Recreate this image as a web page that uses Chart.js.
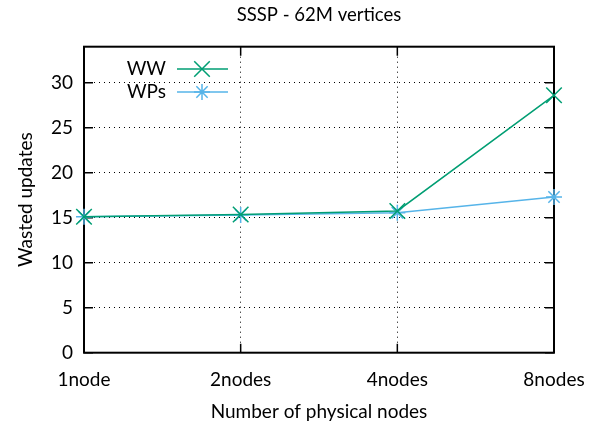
<!DOCTYPE html>
<html>
<head>
<meta charset="utf-8">
<script src="https://cdn.jsdelivr.net/npm/chart.js@4.4.1/dist/chart.umd.min.js"></script>
<style>
    html, body { margin: 0; padding: 0; background: #fff; }
    #grafico-container { width: 596px; height: 429px; }
</style>
</head>
<body>
<div id="grafico-container"><canvas id="graficoSSSP"></canvas></div>
<script>
const nodos = ['1node', '2nodes', '4nodes', '8nodes'];
const valoresWW = [15.1, 15.35, 15.75, 28.6];
const valoresWPs = [15.1, 15.3, 15.55, 17.3];
const ticksY = [0, 5, 10, 15, 20, 25, 30];

const FUENTE = 'Lato, "Open Sans", sans-serif';

// marco, ticks hacia dentro y leyenda al estilo gnuplot
const marcoGnuplot = {
    id: 'marcoGnuplot',
    beforeDatasetsDraw(chart) {
        const {ctx, chartArea: a, scales} = chart;
        ctx.save();
        ctx.strokeStyle = '#000';
        ctx.lineWidth = 1.5;
        ctx.beginPath();
        ticksY.forEach(v => {
            const y = scales.y.getPixelForValue(v);
            ctx.moveTo(a.left, y); ctx.lineTo(a.left + 9, y);
            ctx.moveTo(a.right, y); ctx.lineTo(a.right - 9, y);
        });
        nodos.forEach((n, i) => {
            const x = scales.x.getPixelForValue(i);
            ctx.moveTo(x, a.bottom); ctx.lineTo(x, a.bottom - 9);
            ctx.moveTo(x, a.top); ctx.lineTo(x, a.top + 9);
        });
        ctx.stroke();
        ctx.lineWidth = 2;
        ctx.strokeRect(a.left, a.top, a.right - a.left, a.bottom - a.top);
        ctx.restore();
    },
    afterDraw(chart) {
        const {ctx} = chart;
        ctx.save();
        ctx.font = '19px ' + FUENTE;
        ctx.textAlign = 'right';
        ctx.textBaseline = 'middle';
        chart.data.datasets.forEach((ds, i) => {
            const y = 69 + i * 23;
            ctx.fillStyle = '#000';
            ctx.fillText(ds.label, 166, y);
            ctx.strokeStyle = ds.borderColor;
            ctx.lineWidth = 1.5;
            ctx.beginPath();
            ctx.moveTo(177, y); ctx.lineTo(228, y);
            ctx.stroke();
            Chart.helpers.drawPoint(ctx, {
                pointStyle: ds.pointStyle,
                radius: ds.pointRadius,
                rotation: 0,
                borderWidth: 1.5
            }, 202, y);
        });
        ctx.restore();
    }
};

new Chart(document.getElementById('graficoSSSP').getContext('2d'), {
    type: 'line',
    data: {
        labels: nodos,
        datasets: [{
            label: 'WW',
            data: valoresWW,
            borderColor: '#009e73',
            backgroundColor: '#009e73',
            borderWidth: 1.5,
            pointStyle: 'crossRot',
            pointRadius: 11,
            pointBorderWidth: 1.5,
            clip: false
        }, {
            label: 'WPs',
            data: valoresWPs,
            borderColor: '#56b4e9',
            backgroundColor: '#56b4e9',
            borderWidth: 1.5,
            pointStyle: 'star',
            pointRadius: 8,
            pointBorderWidth: 1.5,
            clip: false
        }]
    },
    options: {
        responsive: true,
        maintainAspectRatio: false,
        animation: false,
        layout: { padding: { top: 0, right: 42, bottom: 0, left: 0 } },
        scales: {
            x: {
                offset: false,
                afterFit: scale => {
                    scale.height = 76.3;
                    scale.paddingLeft = 0;
                    scale.paddingRight = 0;
                },
                border: { display: false, dash: [1, 4] },
                grid: {
                    color: '#000',
                    lineWidth: 1,
                    drawTicks: false
                },
                ticks: {
                    color: '#000',
                    padding: 16,
                    maxRotation: 0,
                    font: { family: FUENTE, size: 19 }
                },
                title: {
                    display: true,
                    text: 'Number of physical nodes',
                    color: '#000',
                    padding: { top: 0, bottom: 5.6 },
                    font: { family: FUENTE, size: 19 }
                }
            },
            y: {
                min: 0,
                max: 34,
                afterFit: scale => { scale.width = 84; },
                border: { display: false, dash: [1, 4] },
                grid: {
                    color: '#000',
                    lineWidth: 1,
                    drawTicks: false
                },
                ticks: {
                    stepSize: 5,
                    includeBounds: false,
                    color: '#000',
                    padding: 11,
                    font: { family: FUENTE, size: 19 }
                },
                title: {
                    display: true,
                    text: 'Wasted updates',
                    color: '#000',
                    padding: { top: 14.6, bottom: 0 },
                    font: { family: FUENTE, size: 19 }
                }
            }
        },
        plugins: {
            legend: { display: false },
            tooltip: { enabled: false },
            title: {
                display: true,
                fullSize: false,
                text: 'SSSP - 62M vertices',
                color: '#000',
                padding: { top: 3.6, bottom: 20.9 },
                font: { family: FUENTE, size: 18.5, weight: 'normal' }
            }
        }
    },
    plugins: [marcoGnuplot]
});
</script>
</body>
</html>
